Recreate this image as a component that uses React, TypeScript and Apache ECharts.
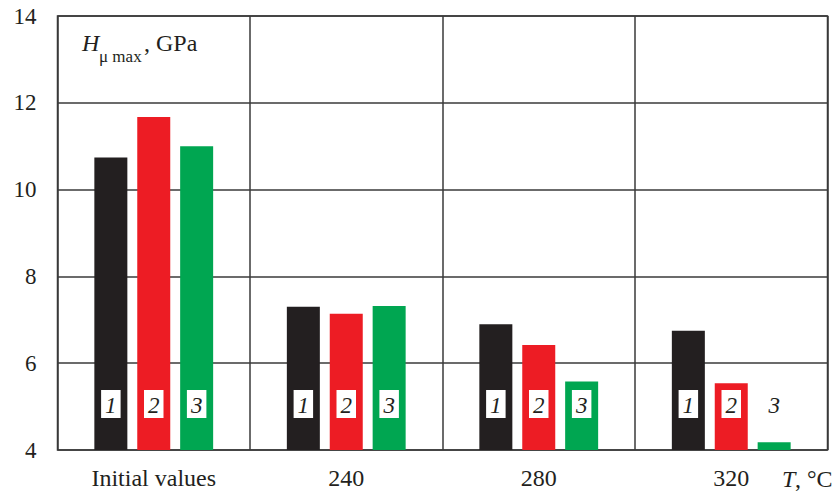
import React, { useEffect, useRef } from "react";
import * as echarts from "echarts";

const categories = ["Initial values", "240", "280", "320"];
const series1 = [10.74, 7.3, 6.9, 6.75];
const series2 = [11.67, 7.14, 6.42, 5.54];
const series3 = [11.0, 7.32, 5.58, 4.18];
const seriesNames = ["1", "2", "3"];
const yTicks = { min: 4, max: 14, interval: 2 };

const colors = ["#231f20", "#ed1c24", "#00a651"];
const lineColor = "#3a3a3a";
const serif = "Liberation Serif";

export default function App() {
  const ref = useRef<HTMLDivElement>(null);
  useEffect(() => {
    document.body.style.margin = "0";
    if (!ref.current) return;
    const chart = echarts.init(ref.current, undefined, { renderer: "svg" });
    const labelBase = {
      show: true,
      position: "insideBottom",
      distance: 32,
      backgroundColor: "#ffffff",
      padding: [3, 4, 1, 4],
      fontStyle: "italic",
      fontFamily: serif,
      fontSize: 23,
      lineHeight: 24,
      color: "#231f20",
    };
    const mk = (data: number[], idx: number) => ({
      type: "bar",
      name: seriesNames[idx],
      barWidth: 33,
      barGap: "30%",
      itemStyle: { color: colors[idx] },
      label: { ...labelBase, formatter: seriesNames[idx] },
      data: data.map((v) =>
        idx === 2 && v < 4.5
          ? { value: v, label: { backgroundColor: "transparent" } }
          : v
      ),
    });
    const txt = (left: number, top: number, text: string, size: number, italic = false) => ({
      type: "text",
      left,
      top,
      style: {
        text,
        fontFamily: serif,
        fontSize: size,
        fontStyle: italic ? "italic" : "normal",
        fill: "#231f20",
      },
    });
    chart.setOption({
      animation: false,
      textStyle: { fontFamily: serif },
      grid: {
        left: 57.5,
        right: 9.5,
        top: 16,
        bottom: 42,
        show: true,
        borderColor: lineColor,
        borderWidth: 1.5,
      },
      xAxis: {
        type: "category",
        data: categories,
        axisLine: { show: false },
        axisTick: { show: false },
        splitLine: { show: true, interval: 0, lineStyle: { color: lineColor, width: 1.5 } },
        axisLabel: { fontFamily: serif, fontSize: 24, color: "#231f20", margin: 16 },
      },
      yAxis: {
        type: "value",
        min: yTicks.min,
        max: yTicks.max,
        interval: yTicks.interval,
        axisLine: { show: false },
        axisTick: { show: false },
        splitLine: { show: true, lineStyle: { color: lineColor, width: 1.5 } },
        axisLabel: { fontFamily: serif, fontSize: 23, color: "#231f20", margin: 21 },
      },
      series: [mk(series1, 0), mk(series2, 1), mk(series3, 2)],
      graphic: [
        txt(82, 31, "H", 24, true),
        txt(99, 48, "μ max", 17),
        txt(144, 31, ", GPa", 24),
        txt(782, 467, "T", 24, true),
        txt(795, 467, ", °C", 24),
      ],
    });
    return () => chart.dispose();
  }, []);
  return <div ref={ref} style={{ width: 837, height: 492 }} />;
}
